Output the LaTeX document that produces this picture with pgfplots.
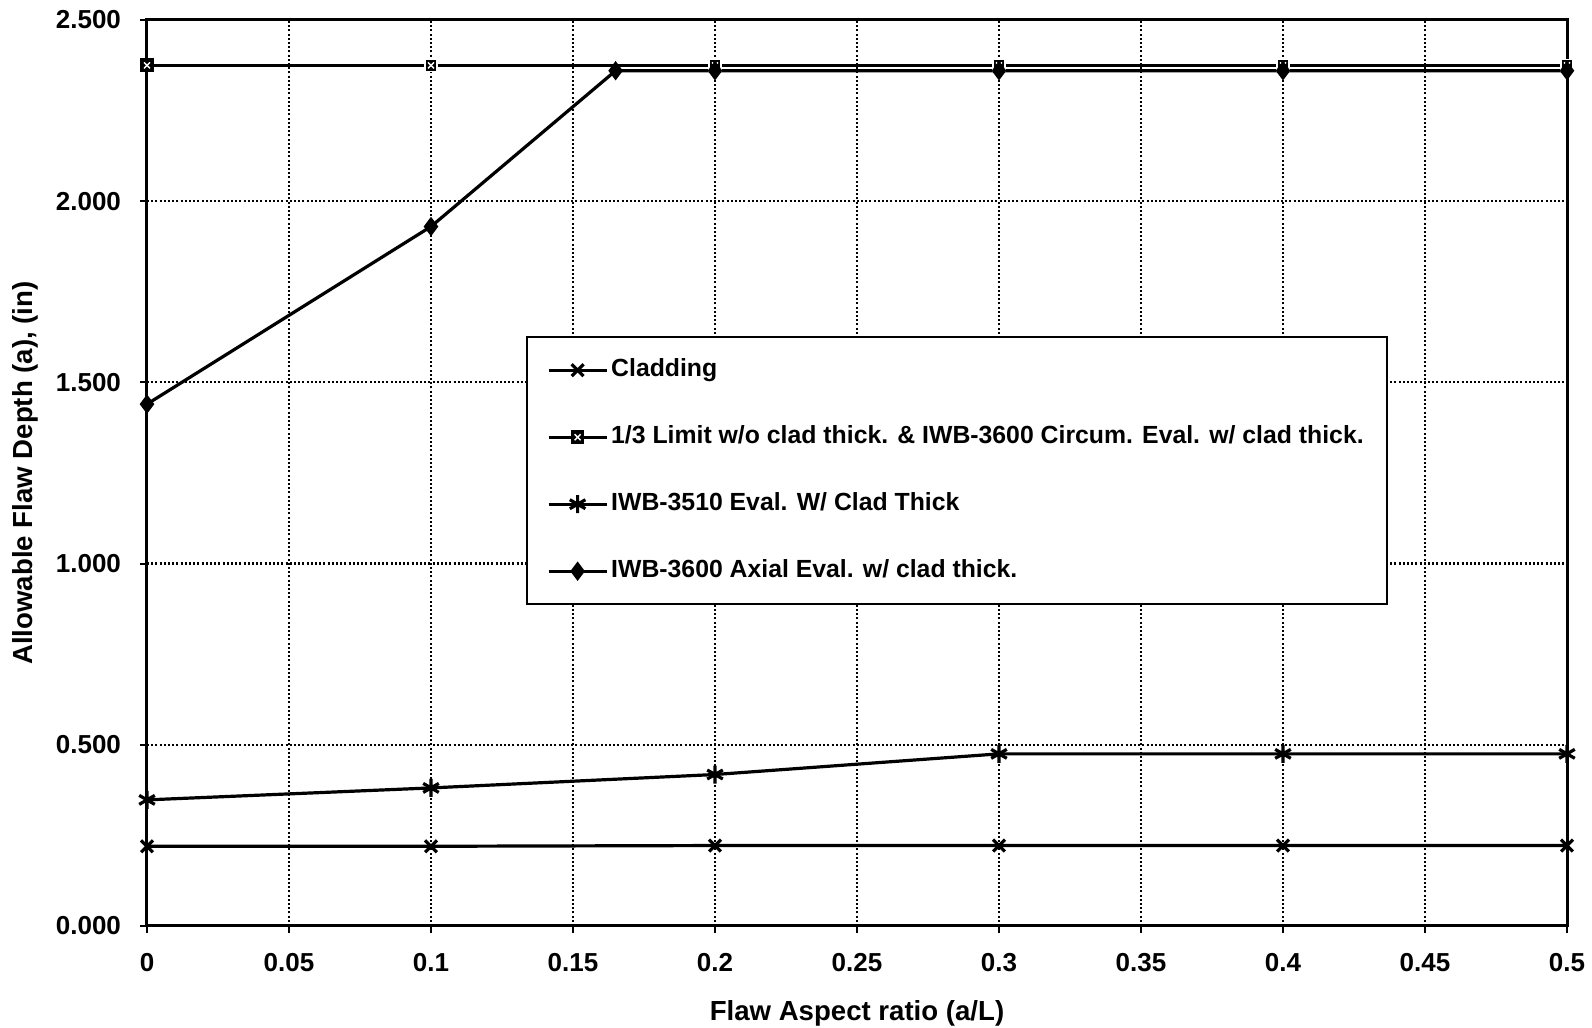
\documentclass[border=0pt]{standalone}
\usepackage{fontspec}
\setmainfont{Liberation Sans}
\usepackage{pgfplots}
\pgfplotsset{compat=1.18}

% filled square with a small white cross, as used for the 1/3 limit series
\pgfdeclareplotmark{sqx}{%
  \pgfpathrectangle{\pgfqpoint{-\pgfplotmarksize}{-\pgfplotmarksize}}{\pgfqpoint{2\pgfplotmarksize}{2\pgfplotmarksize}}%
  \pgfusepathqfillstroke
  \pgfsetstrokecolor{white}\pgfsetlinewidth{0.7pt}%
  \pgfpathmoveto{\pgfqpoint{-0.5\pgfplotmarksize}{-0.5\pgfplotmarksize}}%
  \pgfpathlineto{\pgfqpoint{0.5\pgfplotmarksize}{0.5\pgfplotmarksize}}%
  \pgfpathmoveto{\pgfqpoint{-0.5\pgfplotmarksize}{0.5\pgfplotmarksize}}%
  \pgfpathlineto{\pgfqpoint{0.5\pgfplotmarksize}{-0.5\pgfplotmarksize}}%
  \pgfusepathqstroke
}

\begin{document}
\begin{tikzpicture}
\begin{axis}[
  name=ax,
  scale only axis,
  width=710pt, height=453pt,
  xmin=0, xmax=0.5, ymin=0, ymax=2.5,
  xtick={0,0.05,0.1,0.15,0.2,0.25,0.3,0.35,0.4,0.45,0.5},
  xticklabels={0,0.05,0.1,0.15,0.2,0.25,0.3,0.35,0.4,0.45,0.5},
  ytick={0,0.5,1,1.5,2,2.5},
  yticklabels={0.000,0.500,1.000,1.500,2.000,2.500},
  tick pos=left,
  tick align=outside,
  major tick length=3.5pt,
  tick style={black, line width=1pt},
  axis line style={black, line width=1.5pt},
  grid=major,
  major grid style={black, line width=1.1pt, dash pattern=on 1pt off 1.1pt},
  ticklabel style={font=\fontsize{13}{15}\selectfont\bfseries},
  xticklabel style={yshift=-6.5pt},
  yticklabel style={xshift=-6pt},
  xlabel={Flaw Aspect ratio (a/L)},
  ylabel={Allowable Flaw Depth (a), (in)},
  label style={font=\fontsize{13.8}{15}\selectfont\bfseries},
  xlabel style={at={(axis description cs:0.5,-0.096)}, anchor=center},
  ylabel style={at={(axis description cs:-0.0859,0.5)}, anchor=center},
  clip=false,
  legend cell align=left,
  legend image code/.code={%
    \draw[mark repeat=2, mark phase=2, #1] plot coordinates {(0pt,0pt) (14.5pt,0pt) (29pt,0pt)};},
  legend style={at={(0.2669,0.6512)}, anchor=north west,
    draw=black, line width=1pt, fill=white,
    inner xsep=10pt, inner ysep=9pt, row sep=18.3pt,
    font=\fontsize{12.4}{14}\selectfont\bfseries,
    nodes={inner sep=1.5pt, text height=9.2pt, text depth=3pt}},
  every axis plot/.append style={black, line width=1.6pt},
]

% Cladding
\addplot[mark=x, mark size=4.2pt, mark options={solid, line width=1.6pt}]
  coordinates {(0,0.22) (0.1,0.22) (0.2,0.222) (0.3,0.222) (0.4,0.222) (0.5,0.222)};
\addlegendentry{Cladding}

% 1/3 limit without clad thickness / IWB-3600 circumferential
\addplot[mark=sqx, mark size=3pt, mark options={solid, fill=black, line width=0.8pt}]
  coordinates {(0,2.375) (0.1,2.375) (0.2,2.375) (0.3,2.375) (0.4,2.375) (0.5,2.375)};
\addlegendentry{1/3 Limit w/o clad thick. \& IWB-3600 Circum. Eval. w/ clad thick.}

% IWB-3510 evaluation
\addplot[mark=asterisk, mark size=4.5pt, mark options={solid, line width=1.6pt}]
  coordinates {(0,0.348) (0.1,0.381) (0.2,0.418) (0.3,0.475) (0.4,0.475) (0.5,0.475)};
\addlegendentry{IWB-3510 Eval. W/ Clad Thick}

% IWB-3600 axial evaluation
\addplot[mark=diamond*, mark size=4.2pt, mark options={solid, fill=black, line width=0.8pt}]
  coordinates {(0,1.44) (0.1,1.93) (0.165,2.36) (0.2,2.36) (0.3,2.36) (0.4,2.36) (0.5,2.36)};
\addlegendentry{IWB-3600 Axial Eval. w/ clad thick.}

\end{axis}
\pgfresetboundingbox
\path[use as bounding box] ([xshift=-73.5pt,yshift=-51pt]ax.south west)
  rectangle ([xshift=12.5pt,yshift=10pt]ax.north east);
\end{tikzpicture}
\end{document}
